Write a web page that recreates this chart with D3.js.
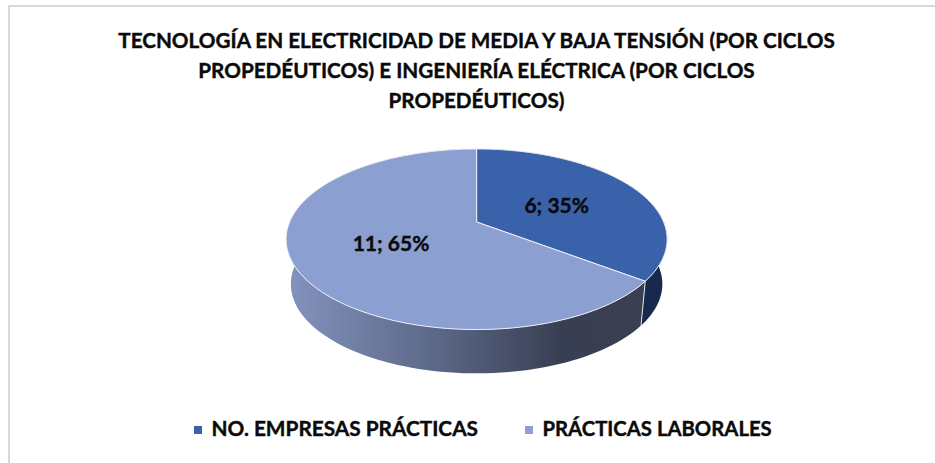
<!DOCTYPE html>
<html>
<head>
<meta charset="utf-8">
<script src="https://cdnjs.cloudflare.com/ajax/libs/d3/7.8.5/d3.min.js"></script>
<style>
  html, body { margin: 0; padding: 0; background: #fff; }
  text { font-family: Lato, "Open Sans", sans-serif; font-weight: 700; fill: #0a0a0a; stroke: #0a0a0a; stroke-width: 0.4px; }
</style>
</head>
<body>
<div id="chart"></div>
<script>
var categories = ['NO. EMPRESAS PRÁCTICAS', 'PRÁCTICAS LABORALES'];
var values = [6, 11];
var percentLabels = ['35%', '65%'];
var titleLines = [
  'TECNOLOGÍA EN ELECTRICIDAD DE MEDIA Y BAJA TENSIÓN (POR CICLOS',
  'PROPEDÉUTICOS) E INGENIERÍA ELÉCTRICA (POR CICLOS',
  'PROPEDÉUTICOS)'
];
var topColors = ['#3a62aa', '#8c9fd1'];

var width = 935, height = 463;

var svg = d3.select('#chart').append('svg')
            .attr('width', width)
            .attr('height', height);

// Chart frame, the right and bottom edges fall outside the crop of the original
svg.append('path')
   .attr('d', 'M9,' + height + 'V6H' + width)
   .attr('fill', 'none')
   .attr('stroke', '#d9d9d9')
   .attr('stroke-width', 2);

// Title
svg.append('g').selectAll('text').data(titleLines).enter().append('text')
   .attr('x', 476.5)
   .attr('y', function(_, i) { return 47.5 + i * 30; })
   .attr('text-anchor', 'middle')
   .attr('font-size', 20.7)
   .text(function(d) { return d; });

// The pie is tilted with some perspective, so the apex is not at the middle of
// the ellipse. Map a point of the unit circle to the screen.
var persp = 0.191;
var apex = { x: 476.6, y: 222 };
var radiusX = 187, radiusY = 87;
var lower = { scaleX: 0.975, scaleY: 0.989, y: 267 };

function project(angle, level) {
  var u = Math.sin(angle);
  var v = -Math.cos(angle);
  var w = 1 - persp * v;
  if (level) {
    return [apex.x + lower.scaleX * radiusX * u / w,
            lower.y + lower.scaleY * radiusY * v / w];
  }
  return [apex.x + radiusX * u / w, apex.y + radiusY * v / w];
}

function arcPoints(start, end, level) {
  return d3.range(0, 121).map(function(i) {
    return project(start + (end - start) * i / 120, level);
  });
}

var pie = d3.pie().sort(null);
var slices = pie(values);
var line = d3.line();

// Gradients of the outer walls
var defs = svg.append('defs');
var wallStops = [
  [['0%', '#16294c'], ['100%', '#17294c']],
  [['0%', '#8494bf'], ['40%', '#5b6787'], ['72%', '#393f53'], ['100%', '#39404f']]
];
wallStops.forEach(function(stops, i) {
  var g = defs.append('linearGradient')
              .attr('id', 'wall' + i)
              .attr('gradientUnits', 'userSpaceOnUse')
              .attr('x1', 286).attr('x2', 667)
              .attr('y1', 0).attr('y2', 0);
  stops.forEach(function(s) {
    g.append('stop').attr('offset', s[0]).attr('stop-color', s[1]);
  });
});

// Walls first, the top faces cover whatever is hidden
svg.append('g').selectAll('path').data(slices).enter().append('path')
   .attr('d', function(d) {
     var top = arcPoints(d.startAngle, d.endAngle, 0);
     var bottom = arcPoints(d.startAngle, d.endAngle, 1).reverse();
     return line(top.concat(bottom)) + 'Z';
   })
   .style('fill', function(_, i) { return 'url(#wall' + i + ')'; });

// Thin light edge between the two walls
var edge = slices[0].endAngle;
svg.append('path')
   .attr('d', line([project(edge, 0), project(edge, 1)]))
   .attr('stroke', '#dfe3ec')
   .attr('stroke-width', 1)
   .attr('fill', 'none');

// Top faces
svg.append('g').selectAll('path').data(slices).enter().append('path')
   .attr('d', function(d) {
     return line([[apex.x, apex.y]].concat(arcPoints(d.startAngle, d.endAngle, 0))) + 'Z';
   })
   .style('fill', function(_, i) { return topColors[i]; })
   .style('stroke', '#eef0f7')
   .style('stroke-width', 1)
   .style('stroke-linejoin', 'round');

// Data labels
var labelPos = [[556.7, 213], [391, 251]];
svg.append('g').selectAll('text').data(values).enter().append('text')
   .attr('x', function(_, i) { return labelPos[i][0]; })
   .attr('y', function(_, i) { return labelPos[i][1]; })
   .attr('text-anchor', 'middle')
   .attr('font-size', 21)
   .text(function(d, i) { return d + '; ' + percentLabels[i]; });

// Legend
var legendX = [194, 525];
var legendSize = [20.8, 20.3];
var legend = svg.append('g').selectAll('g').data(categories).enter().append('g')
   .attr('transform', function(_, i) { return 'translate(' + legendX[i] + ',428)'; });
legend.append('rect')
   .attr('x', 0).attr('y', -2)
   .attr('width', 8).attr('height', 8)
   .style('fill', function(_, i) { return topColors[i]; });
legend.append('text')
   .attr('x', 17.5)
   .attr('y', 8)
   .attr('font-size', function(_, i) { return legendSize[i]; })
   .text(function(d) { return d; });
</script>
</body>
</html>
